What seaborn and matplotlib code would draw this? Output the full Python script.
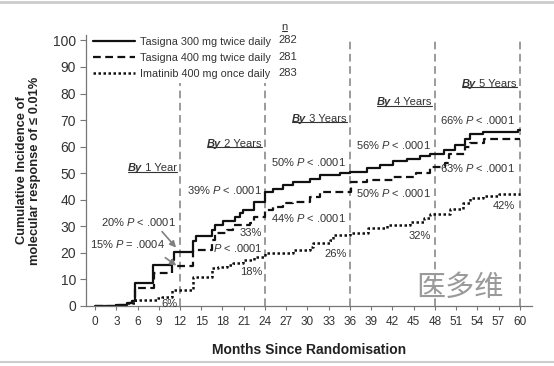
import matplotlib
matplotlib.use('Agg')
import matplotlib.pyplot as plt
import seaborn as sns
from matplotlib.lines import Line2D

# Cumulative incidence: change points (month, %)
t_300 = [0, 3.0, 4.5, 5.2, 5.65, 8.2, 10.8, 11.2, 13.9, 14.3, 16.5, 17.0, 18.1, 19.8,
         20.5, 20.9, 22.4, 24.0, 25.2, 26.6, 28.0, 30.4, 31.8, 34.6, 36.0, 38.4, 40.3,
         42.1, 44.0, 45.9, 47.3, 49.3, 50.8, 52.3, 53.0, 54.8, 59.8, 60]
v_300 = [0, 0.5, 1.0, 2.0, 8.8, 15.3, 17.5, 20.4, 24.5, 26.5, 28.5, 30.5, 32.0, 33.6,
         35.0, 36.2, 39.2, 43.0, 44.2, 45.5, 46.7, 48.0, 49.2, 50.1, 50.5, 51.8, 53.0,
         54.6, 55.5, 56.4, 57.4, 58.9, 60.5, 63.0, 64.9, 65.5, 66.2, 66.2]

t_400 = [0, 3.0, 4.5, 5.2, 5.65, 8.3, 10.8, 13.9, 16.5, 17.0, 18.6, 19.5, 21.9, 22.4,
         24.0, 25.2, 26.6, 28.0, 30.4, 31.8, 36.2, 38.4, 42.1, 45.4, 47.3, 49.4, 50.0,
         52.3, 53.0, 55.0, 60]
v_400 = [0, 0.5, 1.0, 2.0, 6.6, 12.3, 15.0, 21.0, 24.8, 27.3, 28.5, 30.4, 31.1, 33.6,
         36.1, 37.3, 38.6, 39.2, 41.1, 43.0, 46.7, 47.4, 48.6, 49.9, 52.4, 54.0, 57.4,
         59.9, 61.2, 63.0, 63.0]

t_ima = [0, 3.0, 4.5, 5.65, 8.7, 9.5, 10.8, 13.9, 16.5, 17.3, 18.6, 19.5, 20.9, 22.4,
         24.0, 28.0, 30.4, 30.8, 33.2, 33.6, 36.0, 38.6, 41.2, 44.5, 46.4, 47.3, 50.1,
         52.0, 53.0, 54.8, 57.0, 60]
v_ima = [0, 0.3, 1.0, 2.3, 2.9, 3.5, 6.0, 11.0, 14.2, 14.8, 15.4, 16.0, 17.3, 18.5,
         19.8, 21.0, 22.3, 23.6, 24.8, 26.7, 27.3, 29.2, 30.4, 31.7, 33.0, 34.8, 36.7,
         38.6, 40.5, 41.5, 42.0, 42.0]

arm_labels = ['Tasigna 300 mg twice daily', 'Tasigna 400 mg twice daily',
              'Imatinib 400 mg once daily']
arm_n = [282, 281, 283]

year_marks = [12, 24, 36, 48, 60]
year_texts = ['1 Year', '2 Years', '3 Years', '4 Years', '5 Years']
year_text_y = [50.0, 59.3, 68.7, 74.9, 81.8]

# (month right edge, y, text)
pct_labels = [
    (23.6, 43.6, r'39% $P$ < .0001'),
    (23.6, 27.4, '33%'),
    (23.6, 21.8, r'$P$ < .0001'),
    (23.6, 12.8, '18%'),
    (11.6, 0.9, '6%'),
    (35.5, 54.1, r'50% $P$ < .0001'),
    (35.5, 33.0, r'44% $P$ < .0001'),
    (35.5, 19.5, '26%'),
    (47.4, 60.5, r'56% $P$ < .0001'),
    (47.4, 42.4, r'50% $P$ < .0001'),
    (47.4, 26.3, '32%'),
    (59.3, 70.2, r'66% $P$ < .0001'),
    (59.3, 51.8, r'63% $P$ < .0001'),
    (59.3, 37.6, '42%'),
]

sns.set_theme(style='white')
plt.rcParams['font.family'] = ['Liberation Sans', 'DejaVu Sans']
plt.rcParams['mathtext.fontset'] = 'custom'
plt.rcParams['mathtext.rm'] = 'Liberation Sans'
plt.rcParams['mathtext.it'] = 'Liberation Sans:italic'

txt_col = '#333333'
line_col = '#111111'

fig = plt.figure(figsize=(5.54, 3.66), dpi=100)
ax = fig.add_axes([0.155, 0.164, 0.805, 0.740])

sns.lineplot(x=t_300, y=v_300, ax=ax, drawstyle='steps-post', color=line_col,
             lw=1.6, linestyle='-', label=arm_labels[0], estimator=None, sort=False)
sns.lineplot(x=t_400, y=v_400, ax=ax, drawstyle='steps-post', color=line_col,
             lw=1.6, linestyle=(0, (3.5, 2)), label=arm_labels[1], estimator=None, sort=False)
sns.lineplot(x=t_ima, y=v_ima, ax=ax, drawstyle='steps-post', color=line_col,
             lw=1.8, linestyle=(0, (1, 1)), label=arm_labels[2], estimator=None, sort=False)

ax.vlines(year_marks, 0, [84, 84, 100, 100, 100], colors='#808080',
          linestyles=(0, (5, 3)), lw=1.1, zorder=1)

ax.set_xlim(-1.3, 61.7)
ax.set_ylim(0, 102)
ax.set_xticks(range(0, 61, 3))
ax.set_yticks(range(0, 101, 10))
ax.tick_params(axis='y', labelsize=10, length=4, width=0.8, color='#777', direction='out',
               left=True, labelcolor=txt_col, pad=3)
ax.tick_params(axis='x', labelsize=8.5, length=3, width=0.8, color='#777', direction='out',
               bottom=True, labelcolor=txt_col, pad=4)
for s in ['top', 'right']:
    ax.spines[s].set_visible(False)
for s in ['left', 'bottom']:
    ax.spines[s].set_color('#777')
    ax.spines[s].set_linewidth(0.9)

ax.set_xlabel('Months Since Randomisation', fontsize=10, fontweight='bold', color='#222',
              labelpad=11)
ax.set_ylabel('Cumulative Incidence of\nmolecular response of \u2264 0.01%', fontsize=9.3,
              fontweight='bold', color='#222', labelpad=9, linespacing=1.1)

leg = ax.legend(loc='upper left', bbox_to_anchor=(0.016, 0.994), frameon=False, fontsize=7.8,
                handlelength=3.9, handletextpad=0.45, labelspacing=0.55, borderaxespad=0,
                borderpad=0)
for t in leg.get_texts():
    t.set_color(txt_col)

# n column
n_head = ax.text(26.8, 104.9, 'n', fontsize=8, color=txt_col, ha='center', va='center',
                 clip_on=False)
for yv, n in zip([100, 93.6, 87.6], arm_n):
    ax.text(25.9, yv, str(n), fontsize=8, color=txt_col, ha='left', va='center')

# "By N Years" headers
by_pairs = []
for xm, lab, yv in zip(year_marks, year_texts, year_text_y):
    rest = ax.text(xm - 0.45, yv, ' ' + lab, ha='right', va='bottom', fontsize=8, color=txt_col)
    by = ax.annotate('By', xy=(0, 0), xycoords=rest, ha='right', va='bottom', fontsize=8,
                     fontweight='bold', fontstyle='italic', color=txt_col)
    by_pairs.append((by, rest))

for xr, yv, s in pct_labels:
    ax.text(xr, yv, s, ha='right', va='center', fontsize=8, color=txt_col)

# 1 year labels with arrows
ax.text(11.4, 31.6, r'20% $P$ < .0001', ha='right', va='center', fontsize=8, color=txt_col)
ax.text(9.9, 23.3, r'15% $P$ = .0004', ha='right', va='center', fontsize=8, color=txt_col)
ax.annotate('', xy=(11.7, 21.2), xytext=(9.2, 28.8),
            arrowprops=dict(arrowstyle='-|>', color='#808080', lw=1.2, mutation_scale=9))
ax.annotate('', xy=(11.8, 14.6), xytext=(9.6, 18.8),
            arrowprops=dict(arrowstyle='-|>', color='#808080', lw=1.2, mutation_scale=9))

# watermark
ax.text(51.6, 6.8, '医多维', ha='center', va='center', fontsize=21, color='#9a9a9a',
        family=['Noto Sans CJK SC', 'DejaVu Sans'], fontweight='light')

# underlines
fig.canvas.draw()
inv = fig.transFigure.inverted()
r = fig.canvas.get_renderer()


def underline(x0, x1, y):
    (fx0, fy), (fx1, _) = inv.transform([(x0, y), (x1, y)])
    fig.add_artist(Line2D([fx0, fx1], [fy, fy], color=txt_col, lw=0.8))


for by, rest in by_pairs:
    b1 = by.get_window_extent(r)
    b2 = rest.get_window_extent(r)
    underline(b1.x0, b2.x1, b2.y0 + 1.5)
bn = n_head.get_window_extent(r)
underline(bn.x0 + 0.5, bn.x1 - 0.5, bn.y0 + 1.5)

# light frame lines at top and bottom of the image
fig.add_artist(Line2D([0, 1], [0.995, 0.995], color='#cccccc', lw=2))
fig.add_artist(Line2D([0, 1], [0.010, 0.010], color='#cccccc', lw=1.5))

fig.savefig('out.png', dpi=100)
